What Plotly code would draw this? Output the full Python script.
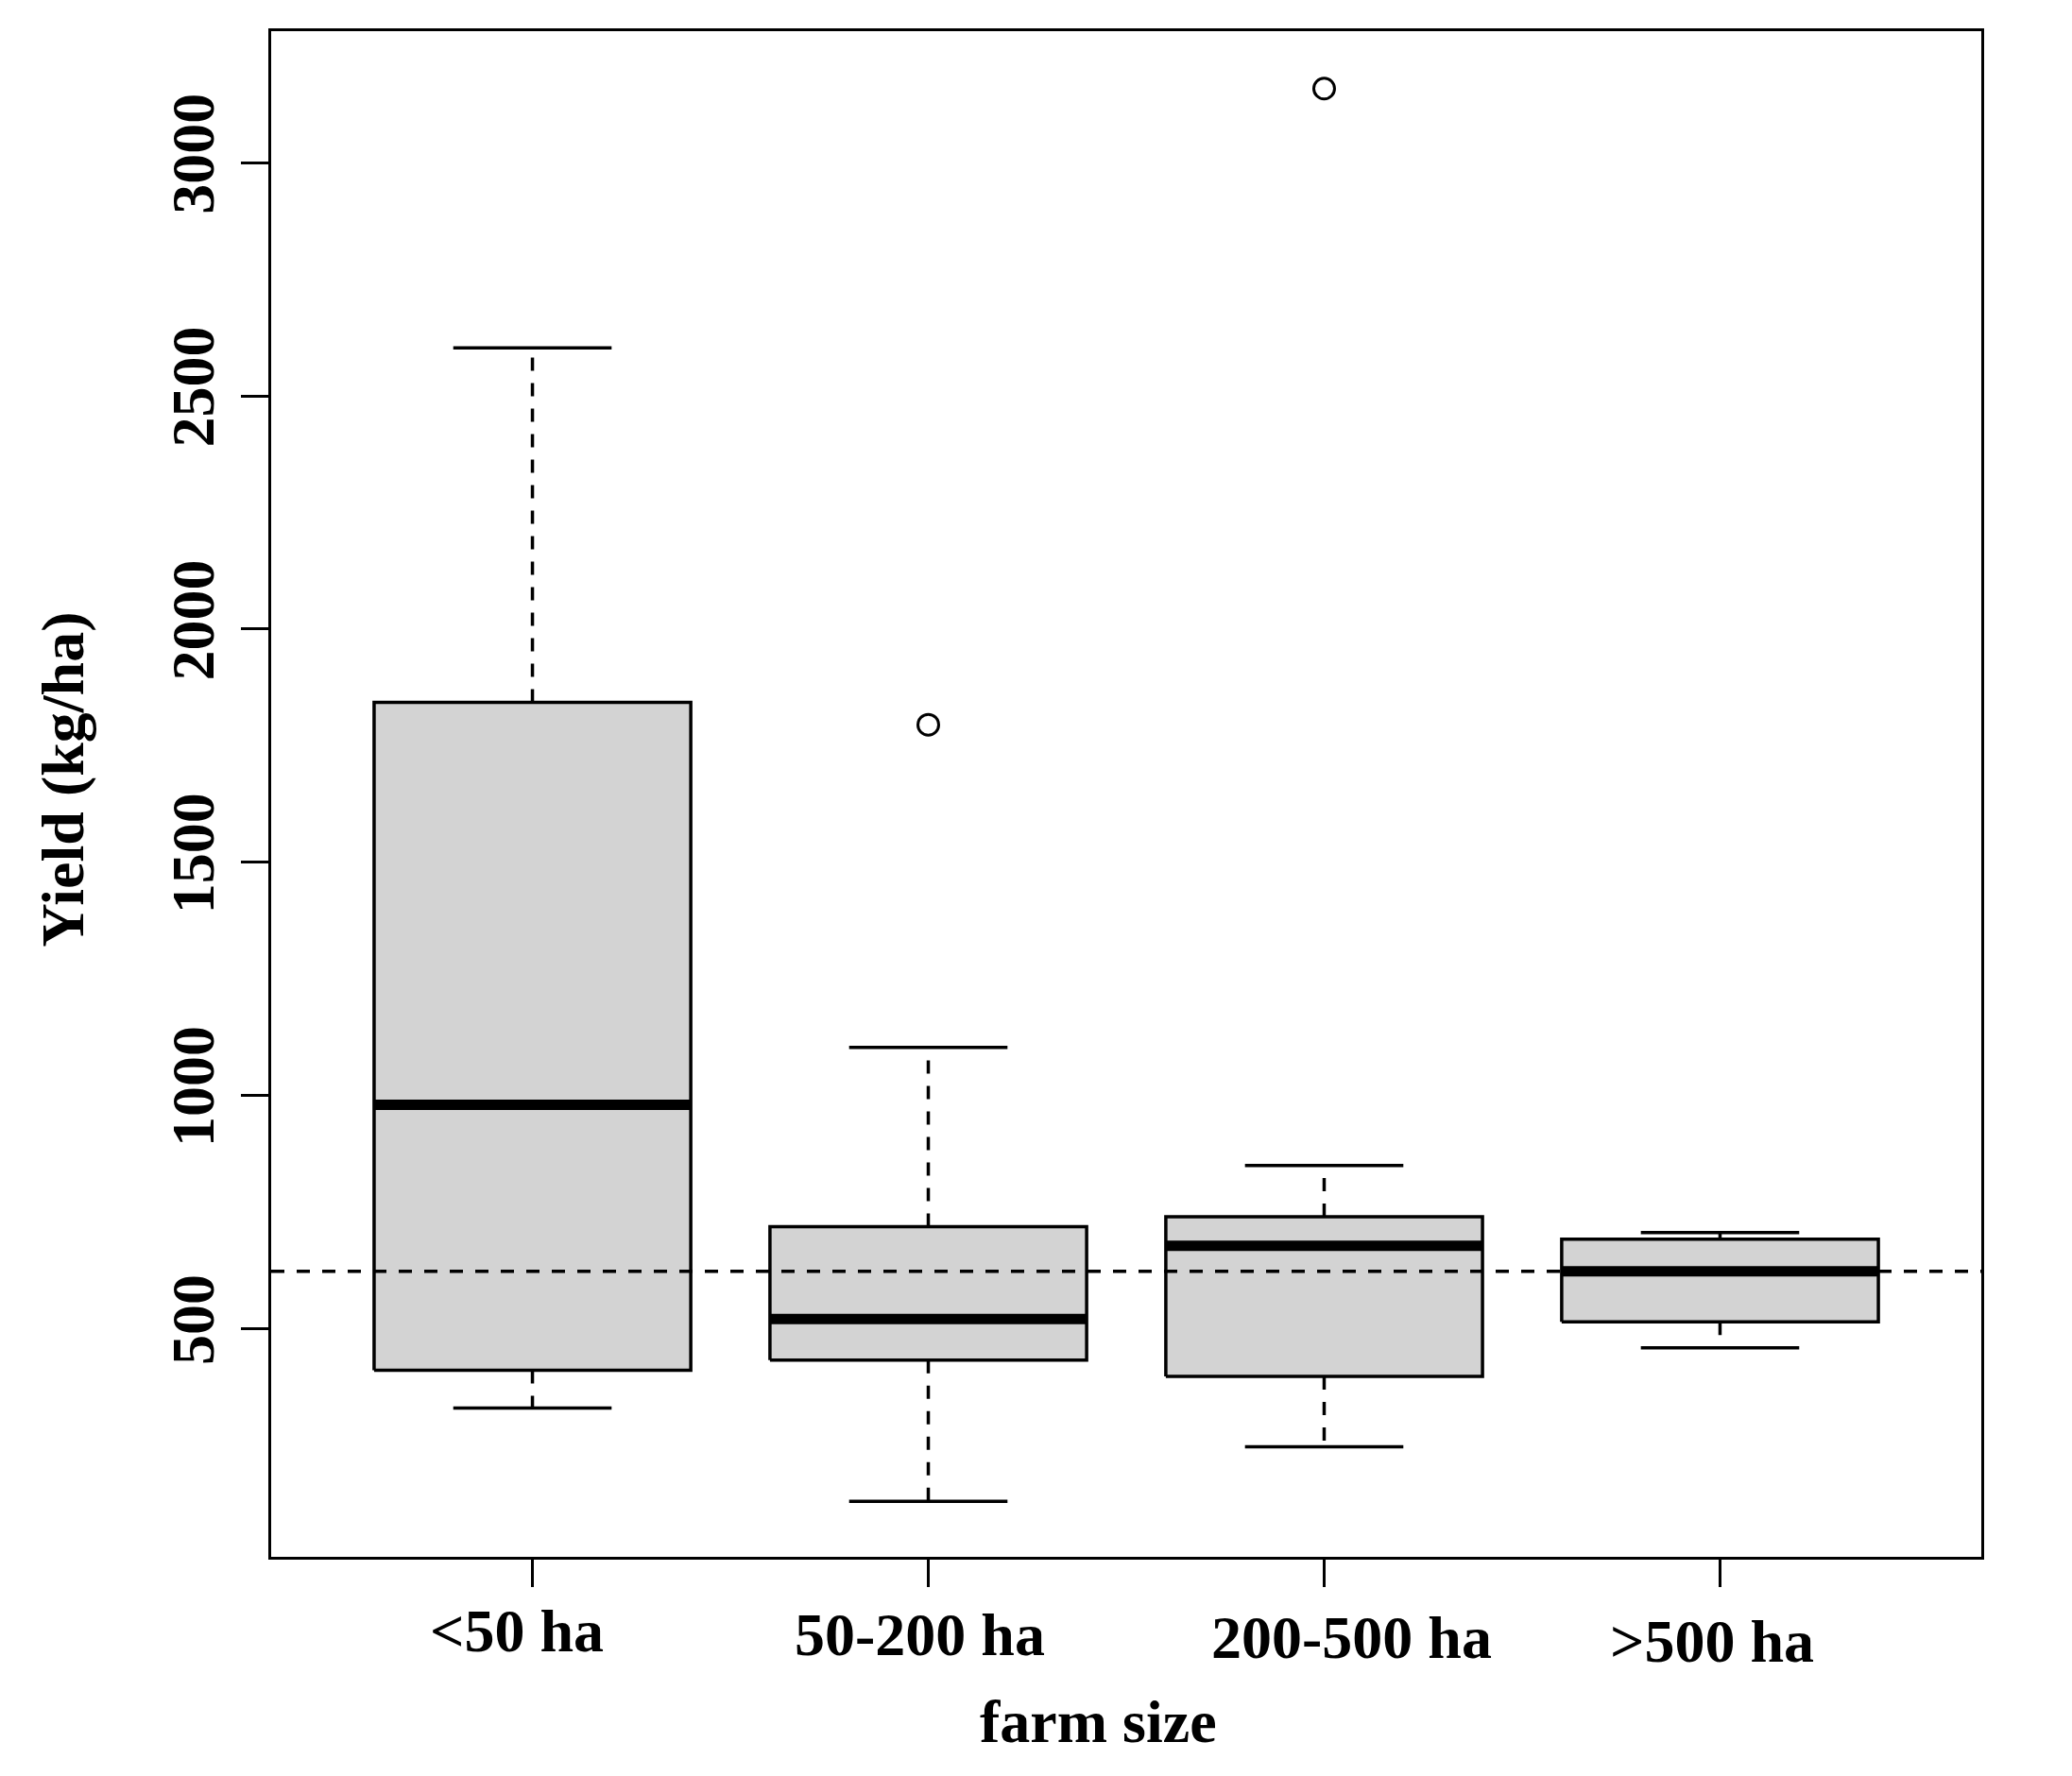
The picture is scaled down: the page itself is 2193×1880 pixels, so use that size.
import plotly.graph_objects as go

# box statistics (kg/ha)
farm_sizes = ["<50 ha", "50-200 ha", "200-500 ha", ">500 ha"]
lower_whisker = [330, 130, 247, 459]
q1 = [411, 433, 398, 515]
median = [980, 521, 678, 623]
q3 = [1843, 719, 740, 692]
upper_whisker = [2603, 1103, 850, 706]
outliers = [[], [1795], [3159], []]
reference_yield = 623

y_ticks = [500, 1000, 1500, 2000, 2500, 3000]

FONT = "Liberation Serif"
HALF_BOX = 0.4
HALF_CAP = 0.2
DASH = "14px,13px"
LW = 3.5
# the category labels sit a little off their ticks in the original
label_dx = [-17, -9, 29, -8]
label_dy = [-78, -82, -85, -89]

fig = go.Figure()

for i, name in enumerate(farm_sizes):
    x = i + 1
    # box body
    fig.add_trace(go.Scatter(
        x=[x - HALF_BOX, x + HALF_BOX, x + HALF_BOX, x - HALF_BOX, x - HALF_BOX],
        y=[q1[i], q1[i], q3[i], q3[i], q1[i]],
        mode="lines", fill="toself", fillcolor="#D3D3D3",
        line=dict(color="black", width=LW), hoverinfo="skip",
    ))
    # median
    fig.add_trace(go.Scatter(
        x=[x - HALF_BOX, x + HALF_BOX], y=[median[i], median[i]],
        mode="lines", line=dict(color="black", width=11), hoverinfo="skip",
    ))
    # dashed whiskers
    for a, b in [(q3[i], upper_whisker[i]), (q1[i], lower_whisker[i])]:
        fig.add_trace(go.Scatter(
            x=[x, x], y=[a, b], mode="lines",
            line=dict(color="black", width=LW, dash=DASH), hoverinfo="skip",
        ))
    # staples
    for v in [upper_whisker[i], lower_whisker[i]]:
        fig.add_trace(go.Scatter(
            x=[x - HALF_CAP, x + HALF_CAP], y=[v, v], mode="lines",
            line=dict(color="black", width=LW), hoverinfo="skip",
        ))
    if outliers[i]:
        fig.add_trace(go.Scatter(
            x=[x] * len(outliers[i]), y=outliers[i], mode="markers",
            marker=dict(symbol="circle-open", size=22, color="black",
                        line=dict(width=3)),
            hoverinfo="skip",
        ))
    # category label
    fig.add_annotation(
        text=name, x=x, xref="x", y=0, yref="paper",
        xshift=label_dx[i], yshift=label_dy[i], showarrow=False,
        xanchor="center", yanchor="middle",
        font=dict(family=FONT, size=64, color="black", weight="bold"),
    )

fig.add_shape(
    type="line", xref="paper", x0=0, x1=1, y0=reference_yield, y1=reference_yield,
    line=dict(color="black", width=LW, dash=DASH), layer="above",
)

tick_font = dict(family=FONT, size=64, color="black", weight="bold")

fig.update_xaxes(
    range=[0.34, 4.66],
    tickvals=list(range(1, len(farm_sizes) + 1)), showticklabels=False,
    ticks="outside", ticklen=29, tickwidth=3, tickcolor="black",
    showline=True, linecolor="black", linewidth=3, mirror=True,
    showgrid=False, zeroline=False,
)
fig.update_yaxes(
    range=[11, 3282], tickvals=y_ticks, tickangle=-90,
    ticks="outside", ticklen=29, tickwidth=3, tickcolor="black",
    tickfont=tick_font, ticklabelstandoff=3,
    showline=True, linecolor="black", linewidth=3, mirror=True,
    showgrid=False, zeroline=False,
)

fig.add_annotation(
    text="Yield (kg/ha)", xref="paper", yref="paper", x=0, y=0.5,
    xshift=-221, yshift=15, textangle=-90, showarrow=False,
    xanchor="center", yanchor="middle",
    font=dict(family=FONT, size=64, color="black", weight="bold"),
)
fig.add_annotation(
    text="farm size", xref="paper", yref="paper", x=0.5, y=0,
    xshift=-30, yshift=-174, showarrow=False,
    xanchor="center", yanchor="middle",
    font=dict(family=FONT, size=64, color="black", weight="bold"),
)

# page body adds ~8px offset, so margins are trimmed by that much
fig.update_layout(
    width=2193, height=1880,
    margin=dict(l=279, r=104, t=25, b=240),
    plot_bgcolor="white", paper_bgcolor="white",
    showlegend=False,
)

fig.write_html("out.html")
